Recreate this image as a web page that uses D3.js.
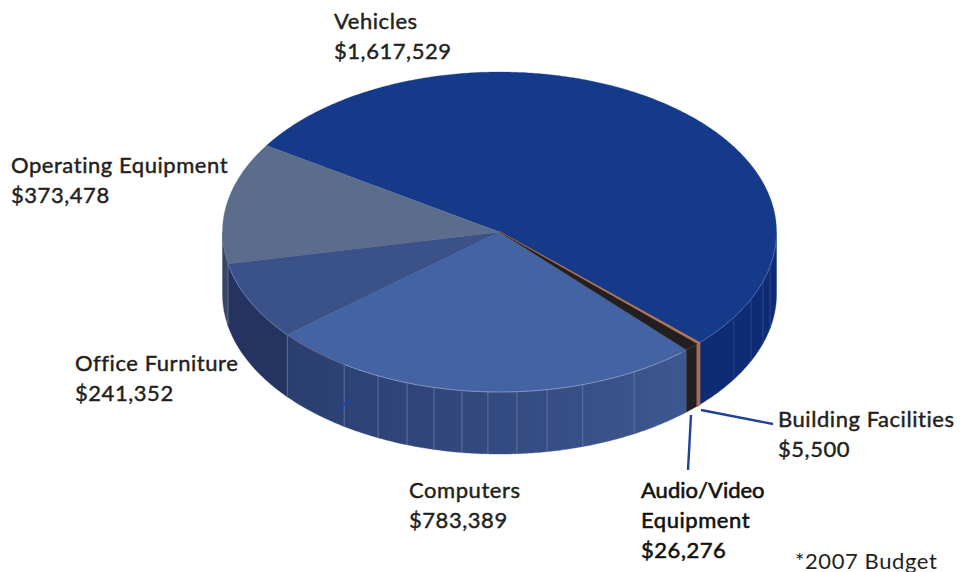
<!DOCTYPE html>
<html><head><meta charset="utf-8">
<script src="https://cdn.jsdelivr.net/npm/d3@7"></script>
<style>html,body{margin:0;padding:0;background:#fff}svg{display:block}
text{font-family:Lato,sans-serif;font-size:22px;font-weight:400;fill:#231f20;letter-spacing:.55px;paint-order:stroke;stroke:#231f20;stroke-width:.45px}</style>
</head><body><svg id="c" width="963" height="572"></svg>
<script>
const categories=["Vehicles","Building Facilities","Audio/Video Equipment","Computers","Office Furniture","Operating Equipment"];
const amounts=[1617529,5500,26276,783389,241352,373478];
const topColors=["#163a8a","#b0755a","#231f20","#4463a3","#3a5289","#5c6c8c"];
const sideColors=["#0f2b76","#a86f55","#231f20","url(#compSide)","#243360","#3a4668"];
const facetAngles=[102.4,108,114.8,122.2,150.9,162.5,170.1,176.4,182.4,187.8,193.7,199.5,206,214.1,230,258.6];
const labels=[
 {lines:["Vehicles","$1,617,529"],x:334,y:29},
 {lines:["Operating Equipment","$373,478"],x:11,y:173},
 {lines:["Office Furniture","$241,352"],x:75,y:371},
 {lines:["Computers","$783,389"],x:409,y:498},
 {lines:["Building Facilities","$5,500"],x:778,y:427},
 {lines:["Audio/Video","Equipment","$26,276"],x:641,y:498,strong:true}
];
const leaders=[[[701,410],[773,424]],[[691,415],[688,470]],[[337,410],[352,399]]];
const note={text:"*2007 Budget",x:795,y:569};

const cx=499.5,cy=232,rx=277,ry=160,depth=62,startDeg=-57.3;
const rad=d=>d*Math.PI/180;
const svg=d3.select("#c");
const sx=d3.scaleLinear().domain([-1,1]).range([cx-rx,cx+rx]);
const sy=d3.scaleLinear().domain([-1,1]).range([cy-ry,cy+ry]);
const pie=d3.pie().sort(null).startAngle(rad(startDeg)).endAngle(rad(startDeg+360));
const arcs=pie(amounts);
const rim=(a,dz=0)=>[sx(Math.sin(a)),sy(-Math.cos(a))+dz];
const samples=(a0,a1)=>{const n=Math.max(2,Math.ceil(Math.abs(a1-a0)/rad(.5)));return d3.range(n+1).map(i=>a0+(a1-a0)*i/n);};
const line=d3.line();

const grad=svg.append("defs").append("linearGradient").attr("id","compSide").attr("gradientUnits","userSpaceOnUse")
 .attr("x1",288).attr("x2",686).attr("y1",0).attr("y2",0);
grad.append("stop").attr("offset",0).attr("stop-color","#2a3e70");
grad.append("stop").attr("offset",.5).attr("stop-color","#334a80");
grad.append("stop").attr("offset",1).attr("stop-color","#3d5790");

// widths of the thin wedges' outlines, so the hairline slices read as in the reference
const thin=[.3,1.6,.3,.3,.3,.3];
// side walls (front half only)
const vis0=rad(90),vis1=rad(270);
const order=[0,3,4,5,2,1];
order.forEach(i=>{
  const d=arcs[i];
  const a0=Math.max(d.startAngle,vis0),a1=Math.min(d.endAngle,vis1);
  if(a1<=a0)return;
  const s=samples(a0,a1);
  const pts=s.map(a=>rim(a)).concat(s.slice().reverse().map(a=>rim(a,depth)));
  svg.append("path").attr("d",line(pts)+"Z").attr("fill",sideColors[i]).attr("stroke",sideColors[i]).attr("stroke-width",i==1?1.6:.4);
});
// facet lines
svg.selectAll("line.facet").data(facetAngles).join("line").attr("class","facet")
 .attr("x1",d=>rim(rad(d))[0]).attr("y1",d=>rim(rad(d))[1])
 .attr("x2",d=>rim(rad(d),depth)[0]).attr("y2",d=>rim(rad(d),depth)[1])
 .attr("stroke",d=>d>125&&d<225?"#6376a0":d>225?"#6d7590":"#2f4a8e").attr("stroke-width",.9);
// top slices
[0,3,4,5,1,2].forEach(i=>{
  const d=arcs[i];
  const pts=[[cx,cy]].concat(samples(d.startAngle,d.endAngle).map(a=>rim(a)));
  svg.append("path").attr("d",line(pts)+"Z").attr("fill",topColors[i]).attr("stroke",topColors[i]).attr("stroke-width",thin[i]);
});
// light rim on the front edge
svg.append("path").attr("d",line(samples(rad(139),rad(214)).map(a=>rim(a)))).attr("fill","none")
 .attr("stroke","#8fa0c8").attr("stroke-width",.8);
svg.append("path").attr("d",line(samples(rad(214),rad(230)).map(a=>rim(a)))).attr("fill","none")
 .attr("stroke","#7d5f78").attr("stroke-width",.7);
svg.append("path").attr("d",line(samples(rad(230),rad(258.6)).map(a=>rim(a)))).attr("fill","none")
 .attr("stroke","#7f90b8").attr("stroke-width",.6);
svg.append("path").attr("d",line(samples(vis0,arcs[0].endAngle).map(a=>rim(a)))).attr("fill","none")
 .attr("stroke","#5f78b2").attr("stroke-width",.7);
// slice divider
const op=arcs[5];
svg.append("line").attr("x1",cx).attr("y1",cy).attr("x2",rim(op.startAngle)[0]).attr("y2",rim(op.startAngle)[1]).attr("stroke","#55658a").attr("stroke-width",.5);
// leaders
svg.selectAll("path.leader").data(leaders).join("path").attr("class","leader").attr("d",d=>line(d))
 .attr("fill","none").attr("stroke","#1f429b").attr("stroke-width",2.4);
// labels
const lh=30;
labels.forEach(l=>{
  const t=svg.append("text").attr("x",l.x).attr("y",l.y);
  if(l.strong)t.style("stroke-width","0.6px").style("fill","#111");
  l.lines.forEach((s,i)=>{
    const ts=t.append("tspan").attr("x",l.x).attr("y",l.y+i*lh).text(s);
    if(s.includes("/"))ts.style("letter-spacing","0px");
  });
});
svg.append("text").attr("x",note.x).attr("y",note.y).text(note.text).style("stroke-width","0").style("letter-spacing",".6px");
</script></body></html>
